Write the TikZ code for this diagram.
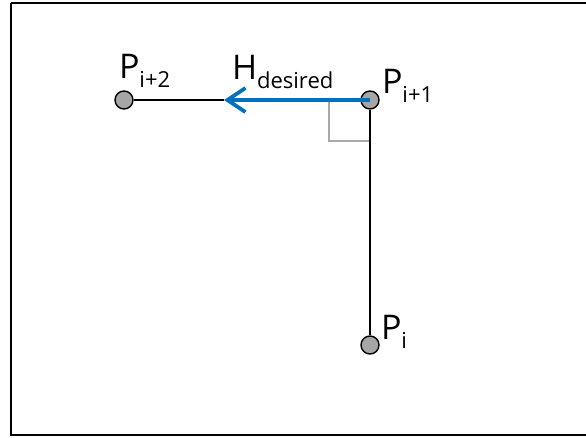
\documentclass[tikz,border=0pt]{standalone}
\usepackage{fontspec}
\newfontfamily\lblfont{Open Sans}
\usetikzlibrary{arrows.meta}
\definecolor{ptgray}{HTML}{A6A6A6}
\definecolor{sqgray}{HTML}{A9A9A9}
\definecolor{hblue}{HTML}{0070C0}
\newcommand{\mylbl}[2]{{\lblfont\fontsize{34}{34}\selectfont #1}{\lblfont\fontsize{22}{22}\selectfont\raisebox{-9pt}{#2}}}
\tikzset{
  ptdot/.style={circle, draw=black, line width=1.4pt, fill=ptgray, minimum size=18pt, inner sep=0pt},
  segline/.style={draw=black, line width=2pt},
  hvec/.style={draw=hblue, line width=3.8pt, -{Straight Barb[length=18pt,width=24pt]}},
  rightangle/.style={draw=sqgray, line width=1.8pt},
  ptlabel/.style={anchor=base west, inner sep=0pt, outer sep=0pt},
}
\begin{document}
\begin{tikzpicture}[x=1pt,y=-1pt]
\useasboundingbox (0,0) rectangle (586,437);
\draw[line width=1.8pt] (11,3) -- (600,3);
\draw[line width=1.8pt] (11,3) -- (11,435) -- (600,435);
% right angle marker
\coordinate (ra1) at (329,100);
\coordinate (ra2) at (329,141);
\coordinate (ra3) at (370,141);
\draw[rightangle] (ra1) -- (ra2) -- (ra3);
% points
\node[ptdot] (pi2) at (124,100) {};
\node[ptdot] (pi1) at (370,100) {};
\node[ptdot] (pi) at (370,345) {};
\coordinate (tip) at (224,100);
\draw[segline] (pi1) -- (pi);
\draw[segline] (pi2) -- (tip);
\draw[hvec] (pi1.center) -- (tip);
% labels
\node[ptlabel] (lpi2) at (119,78) {\mylbl{P}{i+2}};
\node[ptlabel] (lh) at (232,79) {\mylbl{H}{desired}};
\node[ptlabel] (lpi1) at (382,93) {\mylbl{P}{i+1}};
\node[ptlabel] (lpi) at (381,339) {\mylbl{P}{i}};
\end{tikzpicture}
\end{document}
